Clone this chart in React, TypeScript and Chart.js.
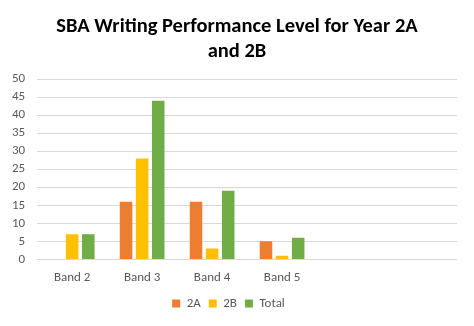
import React, { useEffect, useRef } from "react";
import { Chart, registerables } from "chart.js";

Chart.register(...registerables);

const categories = ["Band 2", "Band 3", "Band 4", "Band 5", "", ""];
const values2A = [0, 16, 16, 5, null, null];
const values2B = [7, 28, 3, 1, null, null];
const valuesTotal = [7, 44, 19, 6, null, null];
const titleLines = ["SBA Writing Performance Level for Year 2A", "and 2B"];

const FONT = "Carlito, 'Open Sans', 'Liberation Sans', sans-serif";

// Stretch the title box across the full canvas so the heading is centred
// on the whole chart, not just the padded layout area.
const fullWidthTitle = {
  id: "fullWidthTitle",
  afterLayout(chart: any) {
    const t = chart.titleBlock;
    if (t) {
      t.left = 0;
      t.right = chart.width;
      t.width = chart.width;
    }
  },
};

export default function App() {
  const canvasRef = useRef<HTMLCanvasElement | null>(null);

  useEffect(() => {
    document.body.style.margin = "0";
    const canvas = canvasRef.current;
    if (!canvas) return;
    const chart = new Chart(canvas, {
      type: "bar",
      data: {
        labels: categories,
        datasets: [
          { label: "2A", data: values2A, backgroundColor: "#ED7D31" },
          { label: "2B", data: values2B, backgroundColor: "#FFC000" },
          { label: "Total", data: valuesTotal, backgroundColor: "#70AD47" },
        ],
      },
      plugins: [fullWidthTitle],
      options: {
        animation: false,
        responsive: false,
        maintainAspectRatio: false,
        layout: { padding: { left: 0, right: 17, top: 5, bottom: 6 } },
        datasets: {
          bar: { categoryPercentage: 0.69, barPercentage: 0.78 },
        },
        plugins: {
          title: {
            display: true,
            text: titleLines,
            color: "#000000",
            font: { family: FONT, size: 20.5, weight: "bold", lineHeight: 1.22 },
            padding: { top: 9, bottom: 15 },
          },
          legend: {
            position: "bottom",
            labels: {
              boxWidth: 8,
              boxHeight: 8,
              padding: 8,
              color: "#595959",
              font: { family: FONT, size: 13 },
            },
          },
          tooltip: { enabled: false },
        },
        scales: {
          x: {
            grid: { display: false },
            border: { display: false },
            ticks: { color: "#595959", font: { family: FONT, size: 13 }, padding: 3 },
          },
          y: {
            min: 0,
            max: 50,
            ticks: {
              stepSize: 5,
              autoSkip: false,
              color: "#595959",
              font: { family: FONT, size: 13 },
              padding: 12,
            },
            grid: { color: "#d9d9d9", lineWidth: 1, drawTicks: false },
            border: { display: false },
          },
        },
      },
    });
    return () => chart.destroy();
  }, []);

  return (
    <div style={{ width: 474, height: 326, boxSizing: "border-box" }}>
      <canvas ref={canvasRef} width={474} height={326} style={{ display: "block" }} />
    </div>
  );
}
